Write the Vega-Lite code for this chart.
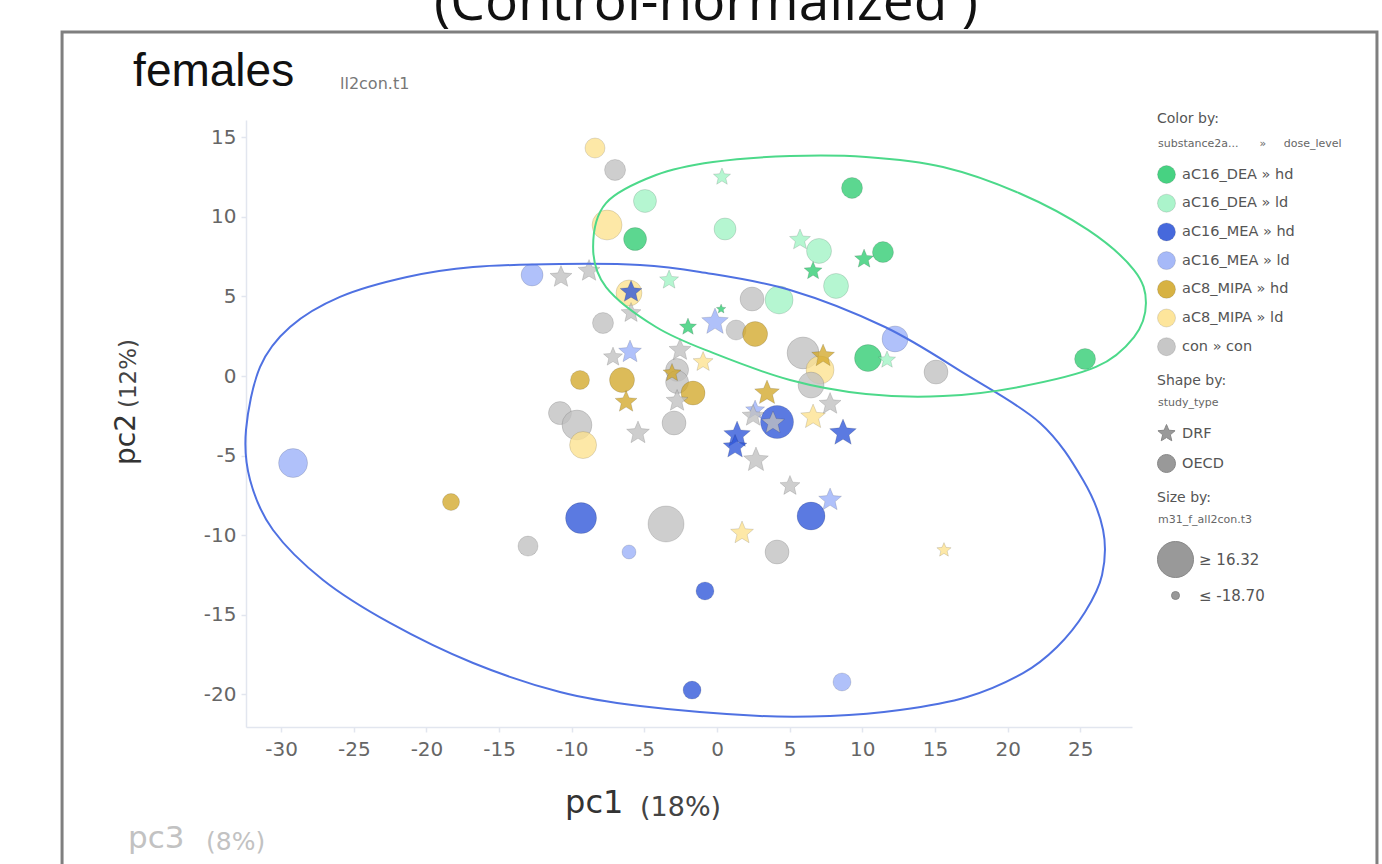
{
  "$schema": "https://vega.github.io/schema/vega-lite/v6.json",
  "width": 886,
  "height": 607,
  "autosize": {"type": "none"},
  "padding": {"left": 246, "top": 120, "right": 250, "bottom": 137},
  "background": "white",
  "config": {
    "view": {"stroke": null},
    "font": "DejaVu Sans",
    "axis": {"domainColor": "#e2e6ef", "domainWidth": 1.5, "tickColor": "#e2e6ef", "tickWidth": 1.5, "tickSize": 5, "labelFont": "DejaVu Sans", "labelFontSize": 20, "labelColor": "#666666", "labelPadding": 6, "grid": false, "labelExpr": "'' + datum.value"},
    "legend": {"labelFont": "DejaVu Sans", "labelFontSize": 14.5, "labelColor": "#555555", "padding": 0}
  },
  "datasets": {
    "points": [
      {"pc1": -8.40, "pc2": 14.33, "grp": "aC8_MIPA » ld", "study": "OECD", "m31": -9.15},
      {"pc1": -7.02, "pc2": 12.95, "grp": "con » con", "study": "OECD", "m31": -7.98},
      {"pc1": -4.96, "pc2": 11.00, "grp": "aC16_DEA » ld", "study": "OECD", "m31": -5.48},
      {"pc1": -7.57, "pc2": 9.49, "grp": "aC8_MIPA » ld", "study": "OECD", "m31": 5.07},
      {"pc1": -5.64, "pc2": 8.61, "grp": "aC16_DEA » hd", "study": "OECD", "m31": -5.48},
      {"pc1": -12.73, "pc2": 6.35, "grp": "aC16_MEA » ld", "study": "OECD", "m31": -6.76},
      {"pc1": -6.06, "pc2": 5.22, "grp": "aC8_MIPA » ld", "study": "OECD", "m31": -1.30},
      {"pc1": -7.85, "pc2": 3.33, "grp": "con » con", "study": "OECD", "m31": -7.98},
      {"pc1": -9.43, "pc2": -0.25, "grp": "aC8_MIPA » hd", "study": "OECD", "m31": -10.26},
      {"pc1": -6.54, "pc2": -0.25, "grp": "aC8_MIPA » hd", "study": "OECD", "m31": -2.75},
      {"pc1": -10.81, "pc2": -2.33, "grp": "con » con", "study": "OECD", "m31": -5.48},
      {"pc1": -9.64, "pc2": -3.08, "grp": "con » con", "study": "OECD", "m31": 5.07},
      {"pc1": -9.22, "pc2": -4.34, "grp": "aC8_MIPA » ld", "study": "OECD", "m31": 0.20},
      {"pc1": -2.96, "pc2": -2.95, "grp": "con » con", "study": "OECD", "m31": -4.15},
      {"pc1": -2.75, "pc2": 0.38, "grp": "con » con", "study": "OECD", "m31": -5.48},
      {"pc1": -2.75, "pc2": -0.38, "grp": "con » con", "study": "OECD", "m31": -5.48},
      {"pc1": -1.65, "pc2": -1.07, "grp": "aC8_MIPA » hd", "study": "OECD", "m31": -4.15},
      {"pc1": 9.29, "pc2": 11.82, "grp": "aC16_DEA » hd", "study": "OECD", "m31": -7.98},
      {"pc1": 0.55, "pc2": 9.24, "grp": "aC16_DEA » ld", "study": "OECD", "m31": -6.76},
      {"pc1": 7.02, "pc2": 7.86, "grp": "aC16_DEA » ld", "study": "OECD", "m31": -2.75},
      {"pc1": 11.42, "pc2": 7.79, "grp": "aC16_DEA » hd", "study": "OECD", "m31": -7.98},
      {"pc1": 8.19, "pc2": 5.66, "grp": "aC16_DEA » ld", "study": "OECD", "m31": -2.75},
      {"pc1": 2.41, "pc2": 4.84, "grp": "con » con", "study": "OECD", "m31": -4.15},
      {"pc1": 4.27, "pc2": 4.78, "grp": "aC16_DEA » ld", "study": "OECD", "m31": 1.77},
      {"pc1": 1.31, "pc2": 2.89, "grp": "con » con", "study": "OECD", "m31": -9.15},
      {"pc1": 2.62, "pc2": 2.64, "grp": "aC8_MIPA » hd", "study": "OECD", "m31": -2.75},
      {"pc1": 5.92, "pc2": 1.45, "grp": "con » con", "study": "OECD", "m31": 8.59},
      {"pc1": 7.09, "pc2": 0.38, "grp": "aC8_MIPA » ld", "study": "OECD", "m31": 1.77},
      {"pc1": 6.47, "pc2": -0.57, "grp": "con » con", "study": "OECD", "m31": -1.30},
      {"pc1": 12.25, "pc2": 2.33, "grp": "aC16_MEA » ld", "study": "OECD", "m31": -1.30},
      {"pc1": 10.39, "pc2": 1.13, "grp": "aC16_DEA » hd", "study": "OECD", "m31": 0.20},
      {"pc1": 15.07, "pc2": 0.25, "grp": "con » con", "study": "OECD", "m31": -4.15},
      {"pc1": 25.33, "pc2": 1.07, "grp": "aC16_DEA » hd", "study": "OECD", "m31": -7.98},
      {"pc1": 4.13, "pc2": -2.89, "grp": "aC16_MEA » hd", "study": "OECD", "m31": 10.44},
      {"pc1": 6.47, "pc2": -8.80, "grp": "aC16_MEA » hd", "study": "OECD", "m31": 1.77},
      {"pc1": -3.51, "pc2": -9.30, "grp": "con » con", "study": "OECD", "m31": 16.32},
      {"pc1": 4.13, "pc2": -11.06, "grp": "con » con", "study": "OECD", "m31": -4.15},
      {"pc1": -0.83, "pc2": -13.51, "grp": "aC16_MEA » hd", "study": "OECD", "m31": -11.31},
      {"pc1": -1.72, "pc2": -19.74, "grp": "aC16_MEA » hd", "study": "OECD", "m31": -11.31},
      {"pc1": 8.60, "pc2": -19.23, "grp": "aC16_MEA » ld", "study": "OECD", "m31": -11.31},
      {"pc1": -29.18, "pc2": -5.47, "grp": "aC16_MEA » ld", "study": "OECD", "m31": 3.39},
      {"pc1": -18.31, "pc2": -7.92, "grp": "aC8_MIPA » hd", "study": "OECD", "m31": -12.30},
      {"pc1": -9.36, "pc2": -8.93, "grp": "aC16_MEA » hd", "study": "OECD", "m31": 6.80},
      {"pc1": -13.01, "pc2": -10.69, "grp": "con » con", "study": "OECD", "m31": -9.15},
      {"pc1": -6.06, "pc2": -11.06, "grp": "aC16_MEA » ld", "study": "OECD", "m31": -14.95},
      {"pc1": -10.74, "pc2": 6.22, "grp": "con » con", "study": "DRF", "m31": -5.48},
      {"pc1": -8.81, "pc2": 6.60, "grp": "con » con", "study": "DRF", "m31": -5.48},
      {"pc1": -5.92, "pc2": 5.28, "grp": "aC16_MEA » hd", "study": "DRF", "m31": -5.48},
      {"pc1": -5.92, "pc2": 3.96, "grp": "con » con", "study": "DRF", "m31": -7.98},
      {"pc1": -3.30, "pc2": 6.03, "grp": "aC16_DEA » ld", "study": "DRF", "m31": -9.15},
      {"pc1": -2.00, "pc2": 3.08, "grp": "aC16_DEA » hd", "study": "DRF", "m31": -11.31},
      {"pc1": -5.99, "pc2": 1.51, "grp": "aC16_MEA » ld", "study": "DRF", "m31": -4.15},
      {"pc1": -7.16, "pc2": 1.19, "grp": "con » con", "study": "DRF", "m31": -9.15},
      {"pc1": -2.55, "pc2": 1.63, "grp": "con » con", "study": "DRF", "m31": -5.48},
      {"pc1": -6.26, "pc2": -1.63, "grp": "aC8_MIPA » hd", "study": "DRF", "m31": -5.48},
      {"pc1": -5.44, "pc2": -3.58, "grp": "con » con", "study": "DRF", "m31": -4.15},
      {"pc1": -3.10, "pc2": 0.19, "grp": "aC8_MIPA » hd", "study": "DRF", "m31": -10.26},
      {"pc1": -0.96, "pc2": 0.88, "grp": "aC8_MIPA » ld", "study": "DRF", "m31": -7.98},
      {"pc1": -2.75, "pc2": -1.57, "grp": "con » con", "study": "DRF", "m31": -5.48},
      {"pc1": 0.34, "pc2": 12.51, "grp": "aC16_DEA » ld", "study": "DRF", "m31": -11.31},
      {"pc1": 5.71, "pc2": 8.55, "grp": "aC16_DEA » ld", "study": "DRF", "m31": -6.76},
      {"pc1": 6.61, "pc2": 6.60, "grp": "aC16_DEA » hd", "study": "DRF", "m31": -10.26},
      {"pc1": 10.12, "pc2": 7.35, "grp": "aC16_DEA » hd", "study": "DRF", "m31": -9.15},
      {"pc1": 0.28, "pc2": 4.21, "grp": "aC16_DEA » hd", "study": "DRF", "m31": -17.68},
      {"pc1": -0.14, "pc2": 3.39, "grp": "aC16_MEA » ld", "study": "DRF", "m31": 1.77},
      {"pc1": 7.30, "pc2": 1.26, "grp": "aC8_MIPA » hd", "study": "DRF", "m31": -4.15},
      {"pc1": 11.70, "pc2": 1.01, "grp": "aC16_DEA » ld", "study": "DRF", "m31": -11.31},
      {"pc1": 3.44, "pc2": -1.07, "grp": "aC8_MIPA » hd", "study": "DRF", "m31": -1.30},
      {"pc1": 6.61, "pc2": -2.58, "grp": "aC8_MIPA » ld", "study": "DRF", "m31": -1.30},
      {"pc1": 7.78, "pc2": -1.76, "grp": "con » con", "study": "DRF", "m31": -5.48},
      {"pc1": 2.62, "pc2": -2.14, "grp": "aC16_MEA » ld", "study": "DRF", "m31": -9.15},
      {"pc1": 3.85, "pc2": -2.95, "grp": "con » con", "study": "DRF", "m31": -4.15},
      {"pc1": 2.48, "pc2": -2.51, "grp": "con » con", "study": "DRF", "m31": -5.48},
      {"pc1": 8.67, "pc2": -3.58, "grp": "aC16_MEA » hd", "study": "DRF", "m31": 1.77},
      {"pc1": 1.38, "pc2": -3.71, "grp": "aC16_MEA » hd", "study": "DRF", "m31": 1.77},
      {"pc1": 1.24, "pc2": -4.46, "grp": "aC16_MEA » hd", "study": "DRF", "m31": -2.75},
      {"pc1": 2.68, "pc2": -5.28, "grp": "con » con", "study": "DRF", "m31": -1.30},
      {"pc1": 5.02, "pc2": -6.91, "grp": "con » con", "study": "DRF", "m31": -7.98},
      {"pc1": 7.78, "pc2": -7.79, "grp": "aC16_MEA » ld", "study": "DRF", "m31": -4.15},
      {"pc1": 1.72, "pc2": -9.87, "grp": "aC8_MIPA » ld", "study": "DRF", "m31": -4.15},
      {"pc1": 15.62, "pc2": -10.94, "grp": "aC8_MIPA » ld", "study": "DRF", "m31": -14.12}
    ],
    "ell_mea": [
      {"i": 0, "x": -32.42, "y": -3.39}, {"i": 1, "x": -31.45, "y": 0.57}, {"i": 2, "x": -29.39, "y": 3.08},
      {"i": 3, "x": -25.95, "y": 4.97}, {"i": 4, "x": -21.34, "y": 6.22}, {"i": 5, "x": -16.79, "y": 6.85},
      {"i": 6, "x": -10.81, "y": 7.04}, {"i": 7, "x": -5.30, "y": 6.98}, {"i": 8, "x": -1.17, "y": 6.54},
      {"i": 9, "x": 5.02, "y": 5.41}, {"i": 10, "x": 11.56, "y": 3.08}, {"i": 11, "x": 17.07, "y": 0.13},
      {"i": 12, "x": 22.23, "y": -2.95}, {"i": 13, "x": 25.19, "y": -6.54}, {"i": 14, "x": 26.57, "y": -9.68},
      {"i": 15, "x": 26.50, "y": -12.51}, {"i": 16, "x": 25.33, "y": -14.83}, {"i": 17, "x": 23.40, "y": -17.03},
      {"i": 18, "x": 21.06, "y": -18.67}, {"i": 19, "x": 17.21, "y": -20.17}, {"i": 20, "x": 12.59, "y": -20.99},
      {"i": 21, "x": 7.78, "y": -21.37}, {"i": 22, "x": 2.96, "y": -21.37}, {"i": 23, "x": -5.30, "y": -20.74},
      {"i": 24, "x": -10.81, "y": -19.86}, {"i": 25, "x": -16.79, "y": -18.04}, {"i": 26, "x": -22.51, "y": -15.52},
      {"i": 27, "x": -27.12, "y": -12.82}, {"i": 28, "x": -30.56, "y": -9.68}, {"i": 29, "x": -32.14, "y": -6.54}
    ],
    "ell_dea": [
      {"i": 0, "x": -8.53, "y": 8.11}, {"i": 1, "x": -7.64, "y": 10.87}, {"i": 2, "x": -4.20, "y": 12.63},
      {"i": 3, "x": -0.28, "y": 13.45}, {"i": 4, "x": 5.02, "y": 13.83}, {"i": 5, "x": 10.25, "y": 13.77},
      {"i": 6, "x": 15.55, "y": 13.14}, {"i": 7, "x": 20.78, "y": 11.50}, {"i": 8, "x": 25.53, "y": 9.18},
      {"i": 9, "x": 28.70, "y": 6.66}, {"i": 10, "x": 29.52, "y": 4.59}, {"i": 11, "x": 28.70, "y": 2.45},
      {"i": 12, "x": 26.08, "y": 0.57}, {"i": 13, "x": 20.78, "y": -0.69}, {"i": 14, "x": 15.55, "y": -1.26},
      {"i": 15, "x": 10.25, "y": -1.13}, {"i": 16, "x": 5.02, "y": -0.25}, {"i": 17, "x": -0.28, "y": 1.45},
      {"i": 18, "x": -4.20, "y": 3.08}, {"i": 19, "x": -7.64, "y": 5.59}
    ]
  },
  "layer": [
    {
      "data": {"values": [{}]},
      "mark": {"type": "rect", "filled": false, "color": "#7f7f7f", "strokeWidth": 3},
      "encoding": {
        "x": {"datum": -45.08, "type": "quantitative", "scale": {"domain": [-32.42, 28.56], "nice": false, "zero": false}},
        "x2": {"datum": 45.42},
        "y": {"datum": 21.62, "type": "quantitative", "scale": {"domain": [-22.06, 16.09], "nice": false, "zero": false}},
        "y2": {"datum": -31.68}
      }
    },
    {
      "data": {"name": "points"},
      "mark": {"type": "point", "filled": true, "fillOpacity": 0.78, "stroke": "#000000", "strokeOpacity": 0.12, "strokeWidth": 1},
      "encoding": {
        "x": {"field": "pc1", "type": "quantitative", "scale": {"domain": [-32.42, 28.56], "nice": false, "zero": false}, "axis": {"title": null, "values": [-30, -25, -20, -15, -10, -5, 0, 5, 10, 15, 20, 25], "labelPadding": 7}},
        "y": {"field": "pc2", "type": "quantitative", "scale": {"domain": [-22.06, 16.09], "nice": false, "zero": false}, "axis": {"title": null, "values": [-20, -15, -10, -5, 0, 5, 10, 15], "labelPadding": 5}},
        "color": {
          "field": "grp", "type": "nominal",
          "scale": {"domain": ["aC16_DEA » hd", "aC16_DEA » ld", "aC16_MEA » hd", "aC16_MEA » ld", "aC8_MIPA » hd", "aC8_MIPA » ld", "con » con"],
                    "range": ["#2ecc71", "#a0f3c4", "#2d55d8", "#9ab0f8", "#d2a82a", "#fde28e", "#c0c0c0"]},
          "legend": {"title": null, "orient": "none", "legendX": 911, "legendY": 45, "symbolType": "circle", "symbolSize": 324, "rowPadding": 5.7, "labelOffset": 6, "symbolOpacity": 0.88, "symbolStrokeColor": "#00000022", "symbolStrokeWidth": 1}
        },
        "shape": {
          "field": "study", "type": "nominal",
          "scale": {"domain": ["DRF", "OECD"], "range": ["M0,-1L0.2645,-0.3641L0.9511,-0.309L0.428,0.1391L0.5878,0.809L0,0.45L-0.5878,0.809L-0.428,0.1391L-0.9511,-0.309L-0.2645,-0.3641Z", "circle"]},
          "legend": {"title": null, "orient": "none", "legendX": 911, "legendY": 304, "symbolSize": 324, "rowPadding": 9, "labelOffset": 6, "symbolFillColor": "#999999", "symbolStrokeColor": "#888888", "symbolStrokeWidth": 1}
        },
        "size": {
          "field": "m31", "type": "quantitative",
          "scale": {"domain": [-18.7, 16.32], "range": [64, 1296]},
          "legend": {"title": null, "orient": "none", "legendX": 911, "legendY": 421, "values": [16.32, -18.7], "labelExpr": "datum.value > 0 ? '≥ 16.32' : '≤ -18.70'", "symbolType": "circle", "symbolFillColor": "#999999", "symbolStrokeColor": "#888888", "symbolStrokeWidth": 1, "rowPadding": 8, "labelOffset": 5, "labelFontSize": 15}
        }
      }
    },
    {
      "data": {"name": "ell_mea"},
      "mark": {"type": "line", "interpolate": "cardinal-closed", "color": "#4f71e2", "strokeWidth": 2, "clip": false},
      "encoding": {
        "x": {"field": "x", "type": "quantitative", "scale": {"domain": [-32.42, 28.56], "nice": false, "zero": false}},
        "y": {"field": "y", "type": "quantitative", "scale": {"domain": [-22.06, 16.09], "nice": false, "zero": false}},
        "order": {"field": "i", "type": "quantitative"}
      }
    },
    {
      "data": {"name": "ell_dea"},
      "mark": {"type": "line", "interpolate": "cardinal-closed", "color": "#4cd98a", "strokeWidth": 2, "clip": false},
      "encoding": {
        "x": {"field": "x", "type": "quantitative", "scale": {"domain": [-32.42, 28.56], "nice": false, "zero": false}},
        "y": {"field": "y", "type": "quantitative", "scale": {"domain": [-22.06, 16.09], "nice": false, "zero": false}},
        "order": {"field": "i", "type": "quantitative"}
      }
    },
    {
      "data": {"values": [{}]},
      "mark": {"type": "text", "font": "Open Sans", "fontSize": 55, "color": "#111111", "align": "center", "baseline": "alphabetic"},
      "encoding": {"x": {"datum": -0.76, "type": "quantitative"}, "y": {"datum": 22.38, "type": "quantitative"}, "text": {"value": "(Control-normalized )"}}
    },
    {
      "data": {"values": [{}]},
      "mark": {"type": "text", "font": "Liberation Sans", "fontSize": 46, "color": "#111111", "align": "left", "baseline": "alphabetic"},
      "encoding": {"x": {"datum": -40.19, "type": "quantitative"}, "y": {"datum": 18.23, "type": "quantitative"}, "text": {"value": "females"}}
    },
    {
      "data": {"values": [{}]},
      "mark": {"type": "text", "font": "DejaVu Sans", "fontSize": 16, "color": "#777777", "align": "left", "baseline": "alphabetic"},
      "encoding": {"x": {"datum": -25.95, "type": "quantitative"}, "y": {"datum": 18.04, "type": "quantitative"}, "text": {"value": "ll2con.t1"}}
    },
    {
      "data": {"values": [{}]},
      "mark": {"type": "text", "font": "DejaVu Sans", "fontSize": 32, "color": "#333333", "align": "left", "baseline": "alphabetic"},
      "encoding": {"x": {"datum": -10.46, "type": "quantitative"}, "y": {"datum": -27.47, "type": "quantitative"}, "text": {"value": "pc1"}}
    },
    {
      "data": {"values": [{}]},
      "mark": {"type": "text", "font": "DejaVu Sans", "fontSize": 27, "color": "#444444", "align": "left", "baseline": "alphabetic"},
      "encoding": {"x": {"datum": -5.3, "type": "quantitative"}, "y": {"datum": -27.66, "type": "quantitative"}, "text": {"value": "(18%)"}}
    },
    {
      "data": {"values": [{}]},
      "mark": {"type": "text", "font": "DejaVu Sans", "fontSize": 28, "color": "#333333", "align": "left", "baseline": "alphabetic", "angle": 270},
      "encoding": {"x": {"datum": -40.05, "type": "quantitative"}, "y": {"datum": -5.59, "type": "quantitative"}, "text": {"value": "pc2"}}
    },
    {
      "data": {"values": [{}]},
      "mark": {"type": "text", "font": "DejaVu Sans", "fontSize": 23, "color": "#444444", "align": "left", "baseline": "alphabetic", "angle": 270},
      "encoding": {"x": {"datum": -39.99, "type": "quantitative"}, "y": {"datum": -2.01, "type": "quantitative"}, "text": {"value": "(12%)"}}
    },
    {
      "data": {"values": [{}]},
      "mark": {"type": "text", "font": "DejaVu Sans", "fontSize": 31, "color": "#c2c2c2", "align": "left", "baseline": "alphabetic"},
      "encoding": {"x": {"datum": -40.54, "type": "quantitative"}, "y": {"datum": -29.67, "type": "quantitative"}, "text": {"value": "pc3"}}
    },
    {
      "data": {"values": [{}]},
      "mark": {"type": "text", "font": "DejaVu Sans", "fontSize": 25, "color": "#c2c2c2", "align": "left", "baseline": "alphabetic"},
      "encoding": {"x": {"datum": -35.17, "type": "quantitative"}, "y": {"datum": -29.79, "type": "quantitative"}, "text": {"value": "(8%)"}}
    },
    {
      "data": {"values": [{}]},
      "mark": {"type": "text", "font": "DejaVu Sans", "fontSize": 14, "color": "#555555", "align": "left", "baseline": "alphabetic"},
      "encoding": {"x": {"datum": 30.28, "type": "quantitative"}, "y": {"datum": 15.90, "type": "quantitative"}, "text": {"value": "Color by:"}}
    },
    {
      "data": {"values": [{}]},
      "mark": {"type": "text", "font": "DejaVu Sans", "fontSize": 11, "color": "#666666", "align": "left", "baseline": "alphabetic"},
      "encoding": {"x": {"datum": 30.35, "type": "quantitative"}, "y": {"datum": 14.39, "type": "quantitative"}, "text": {"value": "substance2a...\u00a0\u00a0\u00a0\u00a0\u00a0\u00a0»\u00a0\u00a0\u00a0\u00a0\u00a0dose_level"}}
    },
    {
      "data": {"values": [{}]},
      "mark": {"type": "text", "font": "DejaVu Sans", "fontSize": 14, "color": "#555555", "align": "left", "baseline": "alphabetic"},
      "encoding": {"x": {"datum": 30.28, "type": "quantitative"}, "y": {"datum": -0.57, "type": "quantitative"}, "text": {"value": "Shape by:"}}
    },
    {
      "data": {"values": [{}]},
      "mark": {"type": "text", "font": "DejaVu Sans", "fontSize": 11, "color": "#666666", "align": "left", "baseline": "alphabetic"},
      "encoding": {"x": {"datum": 30.35, "type": "quantitative"}, "y": {"datum": -1.89, "type": "quantitative"}, "text": {"value": "study_type"}}
    },
    {
      "data": {"values": [{}]},
      "mark": {"type": "text", "font": "DejaVu Sans", "fontSize": 14, "color": "#555555", "align": "left", "baseline": "alphabetic"},
      "encoding": {"x": {"datum": 30.28, "type": "quantitative"}, "y": {"datum": -7.92, "type": "quantitative"}, "text": {"value": "Size by:"}}
    },
    {
      "data": {"values": [{}]},
      "mark": {"type": "text", "font": "DejaVu Sans", "fontSize": 11, "color": "#666666", "align": "left", "baseline": "alphabetic"},
      "encoding": {"x": {"datum": 30.35, "type": "quantitative"}, "y": {"datum": -9.24, "type": "quantitative"}, "text": {"value": "m31_f_all2con.t3"}}
    }
  ]
}
